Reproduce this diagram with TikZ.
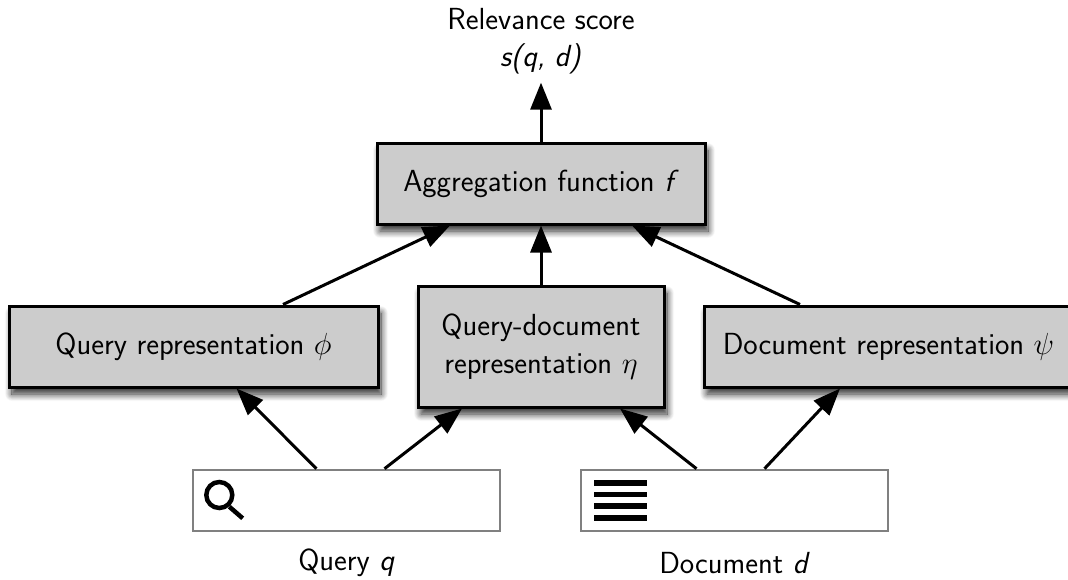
\documentclass[tikz,border=0pt]{standalone}
\usepackage{amsmath,amssymb}
\usepackage{fix-cm}
\usepackage{tikz}
\usetikzlibrary{positioning,arrows.meta,shadows.blur}
\tikzset{
	repbox/.style={draw=black, line width=3pt, fill=black!20, blur shadow={shadow xshift=3pt, shadow yshift=-7pt, shadow blur steps=12, shadow blur radius=7pt, shadow opacity=85}, align=center, inner sep=0pt},
	inputbox/.style={draw=black!50, line width=2.6pt, fill=white, inner sep=0pt},
	lbl/.style={align=center, inner sep=0pt},
}
\begin{document}
\begin{tikzpicture}[>={Triangle[width=21pt,length=27pt]}, line width=3pt, font=\fontsize{30.5pt}{37.5pt}\selectfont\sffamily]
	\useasboundingbox (0pt, 0pt) rectangle (1068pt, -579pt);
	\draw (541.0pt, -41.0pt)node[lbl](score){Relevance score\\ \textit{s(q, d)}};
	\draw (541.0pt, -183.5pt)node[repbox, minimum width=328pt, minimum height=81pt](agg){Aggregation function \textit{f}};
	\draw (193.5pt, -346.5pt)node[repbox, minimum width=369pt, minimum height=81pt](qrep){Query representation $\phi$};
	\draw (541.0pt, -346.5pt)node[repbox, minimum width=246pt, minimum height=121pt](qdrep){Query-document\\ representation $\eta$};
	\draw (888.5pt, -346.5pt)node[repbox, minimum width=369pt, minimum height=81pt](drep){Document representation $\psi$};
	\draw (346.5pt, -500.5pt)node[inputbox, minimum width=307pt, minimum height=61pt](query){};
	\draw (734.5pt, -500.5pt)node[inputbox, minimum width=307pt, minimum height=61pt](doc){};
	\draw (346.5pt, -563.0pt)node[lbl](qlabel){Query \textit{q}};
	\draw (734.5pt, -563.0pt)node[lbl](dlabel){Document \textit{d}};
	% icons
	\draw[line width=4.5pt] (219.3pt, -495.0pt) circle (13pt);
	\draw[line width=4.5pt] (229.3pt, -506.7pt) -- (242.7pt, -518.3pt);
	\foreach \y in {482.7,494.4,506.1,517.8}
		\draw[line width=5.7pt] (594.3pt, -\y pt) -- (647.3pt, -\y pt);
	% arrows
	\path[->, shorten >=7pt] (agg) edge (score);
	\path[->] ([xshift=-30pt]query.north) edge ([xshift=43pt]qrep.south);
	\path[->] ([xshift=38pt]query.north) edge ([xshift=-79pt]qdrep.south);
	\path[->] ([xshift=-38pt]doc.north) edge ([xshift=79pt]qdrep.south);
	\path[->] ([xshift=30pt]doc.north) edge ([xshift=-48.5pt]drep.south);
	\path[->] ([xshift=89.5pt]qrep.north) edge ([xshift=-91pt]agg.south);
	\path[->] (qdrep) edge (agg);
	\path[->] ([xshift=-88.5pt]drep.north) edge ([xshift=91pt]agg.south);
\end{tikzpicture}
\end{document}
